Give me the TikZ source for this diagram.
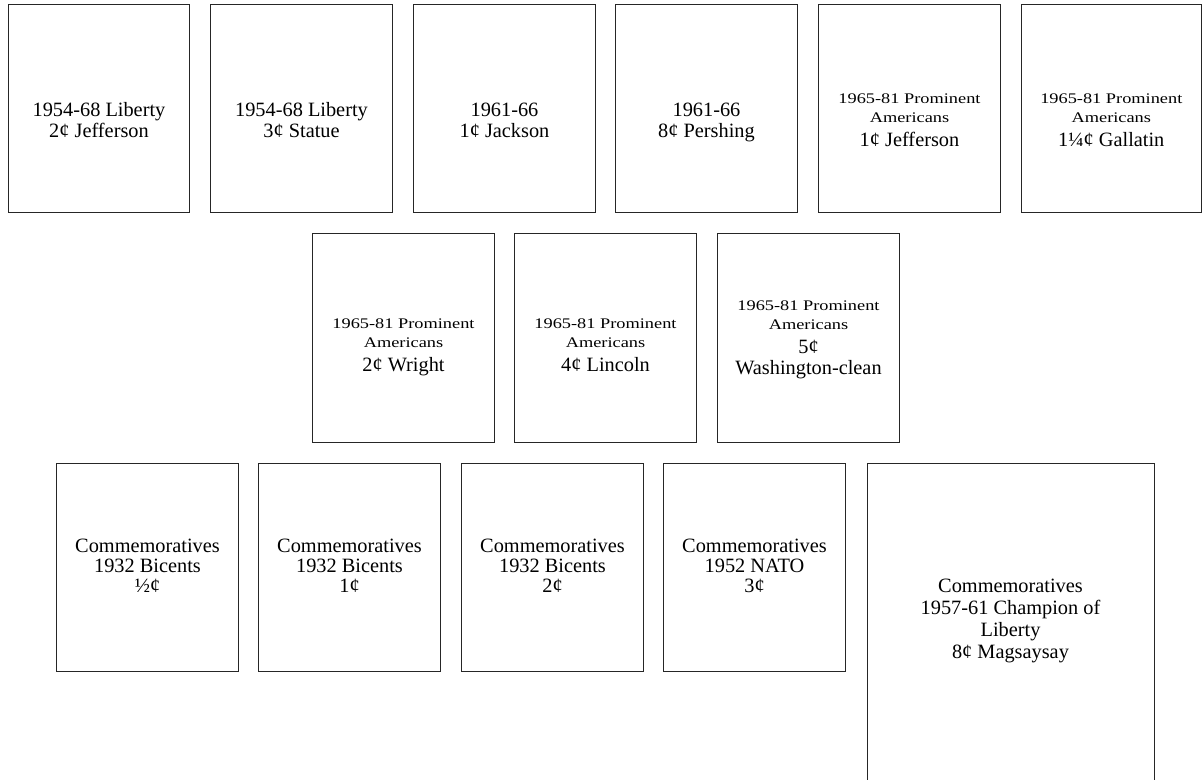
\documentclass[tikz,border=0pt]{standalone}
\usepackage{fontspec}
\setmainfont{Liberation Serif}
\newfontfamily\widefam[FakeStretch=1.25]{Liberation Serif}
\newcommand{\bigf}{\fontsize{15.25pt}{15.75pt}\selectfont}
\newcommand{\smf}{\widefam\fontsize{11pt}{15.75pt}\selectfont}
\begin{document}
\begin{tikzpicture}[x=0.75pt,y=-0.75pt]
\tikzset{
  box/.style={draw=black!85, line width=0.75pt, minimum width=181.5*0.75pt, minimum height=208*0.75pt, inner sep=0pt},
  txt/.style={align=center, inner sep=0pt, anchor=north, font=\bigf}
}
\useasboundingbox (0,0) rectangle (1202,780);
\clip (0,0) rectangle (1202,780);
% row 1
\node[box] (a1) at (99,109) {};
\node[box] (a2) at (301.5,109) {};
\node[box] (a3) at (504.5,109) {};
\node[box] (a4) at (706.5,109) {};
\node[box] (a5) at (909.5,109) {};
\node[box, minimum width=180.5*0.75pt] (a6) at (1111.3,109) {};
% row 2
\node[box] (b1) at (403.5,338) {};
\node[box] (b2) at (605.5,338) {};
\node[box] (b3) at (808.5,338) {};
% row 3
\node[box] (c1) at (147.5,567.5) {};
\node[box] (c2) at (349.5,567.5) {};
\node[box] (c3) at (552.5,567.5) {};
\node[box] (c4) at (754.5,567.5) {};
\draw[draw=black!85, line width=0.75pt] (867,800) -- (867,463) -- (1154,463) -- (1154,800);
\coordinate (c5) at (1010.5,463);
% texts
\node[txt] (ta1) at (a1.center |- 0,102.6) {1954-68 Liberty\\2¢ Jefferson};
\node[txt] (ta2) at (a2.center |- 0,102.6) {1954-68 Liberty\\3¢ Statue};
\node[txt] (ta3) at (a3.center |- 0,102.8) {1961-66\\1¢ Jackson};
\node[txt] (ta4) at (a4.center |- 0,102.8) {1961-66\\8¢ Pershing};
\node[txt] (ta5) at (a5.center |- 0,93) {{\smf 1965-81 Prominent}\\[-1.5pt]{\smf Americans}\\[2.25pt]1¢ Jefferson};
\node[txt] (ta6) at (a6.center |- 0,93) {{\smf 1965-81 Prominent}\\[-1.5pt]{\smf Americans}\\[2.25pt]1¼¢ Gallatin};
\node[txt] (tb1) at (b1.center |- 0,318) {{\smf 1965-81 Prominent}\\[-1.5pt]{\smf Americans}\\[2.25pt]2¢ Wright};
\node[txt] (tb2) at (b2.center |- 0,318) {{\smf 1965-81 Prominent}\\[-1.5pt]{\smf Americans}\\[2.25pt]4¢ Lincoln};
\node[txt] (tb3) at (b3.center |- 0,300) {{\smf 1965-81 Prominent}\\[-1.5pt]{\smf Americans}\\[2.25pt]5¢\\Washington-clean};
\node[txt] (tc1) at (c1.center |- 0,539) {Commemoratives\\[-1pt]1932 Bicents\\[-1pt]½¢};
\node[txt] (tc2) at (c2.center |- 0,539) {Commemoratives\\[-1pt]1932 Bicents\\[-1pt]1¢};
\node[txt] (tc3) at (c3.center |- 0,539) {Commemoratives\\[-1pt]1932 Bicents\\[-1pt]2¢};
\node[txt] (tc4) at (c4.center |- 0,539) {Commemoratives\\[-1pt]1952 NATO\\[-1pt]3¢};
\node[txt] (tc5) at (c5 |- 0,579) {Commemoratives\\[0.75pt]1957-61 Champion of\\[0.75pt]Liberty\\[0.75pt]8¢ Magsaysay};
\end{tikzpicture}
\end{document}
